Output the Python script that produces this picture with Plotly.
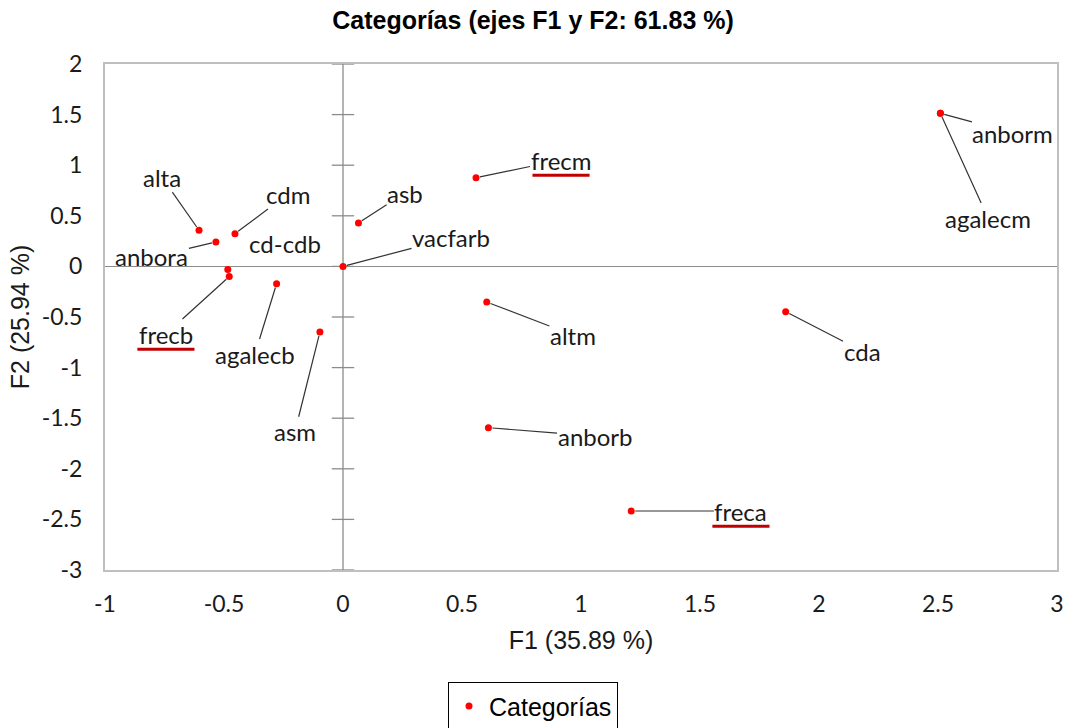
import plotly.graph_objects as go

# ---- data ----
labels = ["anborm", "agalecm", "frecm", "asb", "vacfarb", "alta", "cdm", "anbora",
          "cd-cdb", "frecb", "agalecb", "asm", "altm", "anborb", "freca", "cda"]
f1 = [2.510, 2.510, 0.559, 0.065, 0.000, -0.605, -0.454, -0.534,
      -0.484, -0.478, -0.279, -0.097, 0.604, 0.611, 1.211, 1.860]
f2 = [1.513, 1.513, 0.877, 0.430, 0.000, 0.357, 0.323, 0.241,
      -0.030, -0.100, -0.171, -0.649, -0.352, -1.594, -2.417, -0.448]

x_ticks = [-1, -0.5, 0, 0.5, 1, 1.5, 2, 2.5, 3]
y_ticks = [2, 1.5, 1, 0.5, 0, -0.5, -1, -1.5, -2, -2.5, -3]

# label placement (data units) and whether a leader line is drawn
label_pos = {
    "anborm": (2.815, 1.317, True),
    "agalecm": (2.710, 0.478, True),
    "frecm": (0.916, 1.051, True),
    "asb": (0.261, 0.725, True),
    "vacfarb": (0.454, 0.281, True),
    "alta": (-0.761, 0.883, True),
    "cdm": (-0.231, 0.715, True),
    "anbora": (-0.803, 0.093, True),
    "cd-cdb": (-0.244, 0.231, False),
    "frecb": (-0.744, -0.668, True),
    "agalecb": (-0.370, -0.866, True),
    "asm": (-0.202, -1.634, True),
    "altm": (0.966, -0.678, True),
    "anborb": (1.059, -1.676, True),
    "freca": (1.672, -2.417, True),
    "cda": (2.181, -0.836, True),
}
underlined = ["frecm", "frecb", "freca"]

LABEL_FONT = dict(family="Lato, Carlito, 'Noto Sans', sans-serif", size=24, color="#1a1a1a")
TICK_FONT = dict(family="Lato, Carlito, 'Noto Sans', sans-serif", size=23, color="#1a1a1a")
ARIAL = "Liberation Sans, Arial, sans-serif"

fig = go.Figure()

# cross ticks on the vertical zero axis
fig.add_trace(go.Scatter(x=[0] * len(y_ticks), y=y_ticks, mode="markers",
                         marker=dict(symbol="line-ew", size=16, line=dict(color="#8c8c8c", width=1.3)),
                         showlegend=False, hoverinfo="skip", cliponaxis=False))

fig.add_trace(go.Scatter(x=f1, y=f2, mode="markers", name="Categorías",
                         marker=dict(color="#ff0000", size=7),
                         hovertext=labels))

for name, x, y in zip(labels, f1, f2):
    lx, ly, leader = label_pos[name]
    if leader:
        fig.add_annotation(x=x, y=y, ax=lx, ay=ly, axref="x", ayref="y", xref="x", yref="y",
                           text=name, showarrow=True, arrowhead=0, arrowwidth=1.2,
                           arrowcolor="#333333", standoff=4, font=LABEL_FONT, borderpad=0)
    else:
        fig.add_annotation(x=lx, y=ly, xref="x", yref="y", text=name, showarrow=False,
                           font=LABEL_FONT)
    if name in underlined:
        fig.add_shape(type="line", xref="x", yref="y",
                      x0=lx - 0.12, x1=lx + 0.12, y0=ly - 0.15, y1=ly - 0.15,
                      line=dict(color="#c00000", width=3))

fig.update_layout(
    width=1066, height=728,
    paper_bgcolor="white", plot_bgcolor="white",
    margin=dict(l=105, r=9, t=64, b=158),
    title=dict(text="<b>Categorías (ejes F1 y F2: 61.83 %)</b>", x=0.5, xanchor="center",
               y=0.9725, yanchor="middle",
               font=dict(family=ARIAL, size=25, color="black")),
    showlegend=True,
    legend=dict(orientation="h", x=0.5, xanchor="center", xref="container",
                y=0.063, yanchor="top", yref="container",
                bordercolor="black", borderwidth=1,
                font=dict(family=ARIAL, size=25, color="black")),
)
fig.update_xaxes(range=[-1, 3], tickvals=x_ticks, ticktext=[f"{v:g}" for v in x_ticks],
                 showgrid=False, zeroline=False, automargin=False,
                 showline=True, linecolor="#bfbfbf", linewidth=2, mirror=True,
                 ticks="", ticklabelstandoff=12, ticklabeloverflow="allow", tickfont=TICK_FONT,
                 title=dict(text="F1 (35.89 %)", standoff=16,
                            font=dict(family=ARIAL, size=25, color="#1a1a1a")))
fig.update_yaxes(range=[-3, 2], tickvals=y_ticks, ticktext=[f"{v:g}" for v in y_ticks],
                 showgrid=False, zeroline=True, zerolinecolor="#8c8c8c", zerolinewidth=1.3,
                 automargin=False,
                 showline=True, linecolor="#bfbfbf", linewidth=2, mirror=True,
                 ticks="", ticklabelstandoff=16, tickfont=TICK_FONT,
                 title=dict(text="F2 (25.94 %)", standoff=5,
                            font=dict(family=ARIAL, size=25, color="#1a1a1a")))
# vertical zero line
fig.add_vline(x=0, line=dict(color="#8c8c8c", width=1.3), layer="below")

# remove the default page margin so the figure fills the window exactly
fig.write_html("out.html", config={"displayModeBar": False},
               post_script="document.body.style.margin='0';")
